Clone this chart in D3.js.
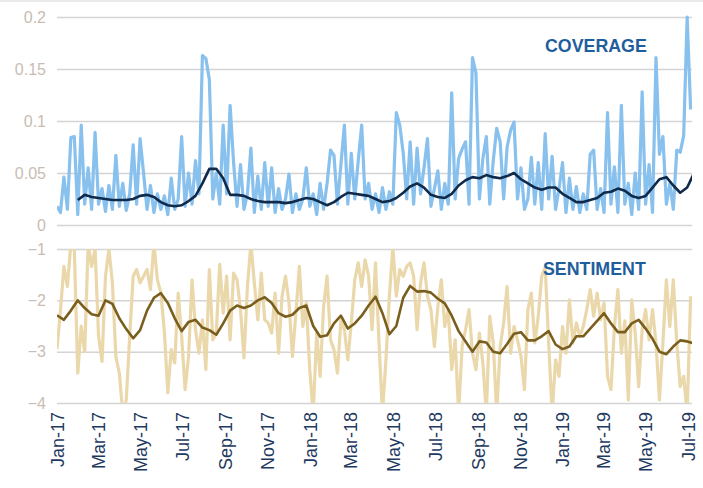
<!DOCTYPE html>
<html>
<head>
<meta charset="utf-8">
<script src="https://cdn.jsdelivr.net/npm/d3@7"></script>
<style>
  body { margin: 0; background: #fff; }
  svg { display: block; font-family: "Liberation Sans", Arial, sans-serif; }
</style>
</head>
<body>
<svg id="chart" width="703" height="488"></svg>
<script>
// daily series sampled every 5 days from 1 Jan 2017
const dailyStart = "2017-01-01";
const dailyStep = 5;
// moving averages sampled every 10 days
const coverageAvgStart = "2017-01-31";
const sentimentAvgStart = "2017-01-01";
const avgStep = 10;

const coverageDaily = [
  0.018,0.012,0.046,0.015,0.084,0.085,0.010,0.096,0.020,0.055,
  0.015,0.089,0.020,0.035,0.013,0.038,0.015,0.067,0.018,0.040,
  0.014,0.030,0.077,0.020,0.083,0.050,0.015,0.038,0.012,0.030,
  0.015,0.028,0.010,0.045,0.015,0.025,0.085,0.018,0.050,0.020,
  0.062,0.030,0.163,0.160,0.140,0.025,0.050,0.020,0.096,0.030,
  0.115,0.060,0.018,0.058,0.015,0.030,0.074,0.012,0.047,0.015,
  0.060,0.018,0.055,0.012,0.035,0.015,0.025,0.049,0.012,0.030,
  0.015,0.025,0.055,0.018,0.030,0.010,0.040,0.015,0.040,0.072,
  0.067,0.020,0.058,0.096,0.020,0.069,0.025,0.062,0.096,0.025,
  0.040,0.015,0.030,0.012,0.036,0.015,0.032,0.020,0.108,0.096,
  0.069,0.025,0.080,0.020,0.074,0.030,0.055,0.083,0.018,0.035,
  0.052,0.015,0.040,0.020,0.127,0.025,0.064,0.073,0.080,0.020,
  0.161,0.146,0.025,0.064,0.085,0.020,0.062,0.093,0.080,0.025,
  0.075,0.091,0.099,0.025,0.055,0.015,0.025,0.065,0.020,0.060,
  0.015,0.088,0.025,0.066,0.015,0.035,0.060,0.012,0.045,0.015,
  0.037,0.012,0.030,0.015,0.068,0.072,0.015,0.035,0.012,0.108,
  0.020,0.056,0.012,0.115,0.020,0.040,0.010,0.050,0.015,0.128,
  0.020,0.058,0.012,0.161,0.068,0.085,0.020,0.040,0.015,0.072,
  0.070,0.086,0.200,0.111
];

const coverageAvg = [
  0.024,0.029,0.027,0.026,0.025,0.024,0.024,0.024,0.025,0.028,
  0.029,0.027,0.022,0.019,0.018,0.019,0.023,0.028,0.040,0.054,
  0.054,0.045,0.029,0.029,0.028,0.025,0.023,0.022,0.022,0.022,
  0.021,0.022,0.024,0.026,0.025,0.022,0.019,0.022,0.027,0.031,
  0.030,0.029,0.028,0.025,0.022,0.023,0.026,0.031,0.037,0.040,
  0.036,0.029,0.027,0.026,0.030,0.038,0.043,0.046,0.045,0.048,
  0.046,0.045,0.047,0.050,0.044,0.040,0.036,0.034,0.036,0.036,
  0.030,0.026,0.022,0.022,0.024,0.026,0.031,0.032,0.035,0.033,
  0.028,0.026,0.028,0.036,0.044,0.046,0.038,0.031,0.036,0.050
];

const sentimentDaily = [
  -2.95,-2.20,-1.34,-1.73,-0.90,-1.00,-3.42,-2.50,-3.00,-0.90,
  -1.34,-1.00,-2.70,-3.19,-1.53,-1.00,-1.66,-3.09,-3.42,-4.20,
  -3.94,-2.70,-1.53,-1.40,-1.66,-1.53,-1.40,-1.79,-0.90,-1.60,
  -1.86,-2.60,-3.80,-2.96,-3.22,-1.86,-2.70,-3.74,-3.09,-1.60,
  -2.57,-3.03,-2.38,-3.35,-1.40,-2.77,-2.64,-1.30,-2.25,-1.53,
  -2.77,-1.47,-1.60,-2.18,-3.12,-1.73,-0.90,-1.66,-2.38,-1.47,
  -2.38,-2.44,-2.64,-1.86,-3.03,-1.92,-1.53,-2.05,-3.09,-2.25,
  -1.34,-2.51,-2.05,-3.35,-4.20,-2.64,-3.48,-2.12,-1.53,-2.77,
  -2.96,-3.42,-2.38,-2.57,-3.16,-2.44,-1.60,-1.27,-1.73,-1.21,
  -1.53,-2.57,-1.27,-2.83,-4.20,-3.16,-1.92,-0.95,-1.92,-1.40,
  -1.53,-1.34,-1.27,-1.53,-2.57,-1.66,-1.27,-1.92,-2.18,-2.90,
  -2.12,-1.60,-2.51,-2.18,-3.35,-2.77,-4.20,-2.90,-2.57,-2.18,
  -3.03,-3.35,-2.64,-3.22,-4.20,-2.31,-2.83,-4.20,-2.90,-2.44,
  -1.73,-3.03,-2.51,-2.77,-3.09,-3.74,-2.18,-1.86,-2.83,-2.31,
  -1.53,-1.35,-2.83,-4.20,-3.16,-3.48,-2.51,-3.03,-1.99,-2.83,
  -2.44,-2.70,-2.51,-2.18,-1.79,-2.31,-1.86,-2.38,-2.05,-3.48,
  -3.74,-2.51,-1.79,-3.03,-2.40,-3.94,-1.99,-2.64,-3.68,-2.57,
  -2.18,-2.77,-2.18,-2.83,-3.94,-2.83,-1.60,-2.51,-1.60,-2.83,
  -3.68,-3.48,-4.20,-1.92
];

const sentimentAvg = [
  -2.29,-2.38,-2.20,-2.00,-2.15,-2.27,-2.30,-2.00,-2.07,-2.35,
  -2.56,-2.74,-2.58,-2.20,-1.95,-1.86,-2.05,-2.35,-2.60,-2.42,
  -2.38,-2.53,-2.58,-2.67,-2.45,-2.20,-2.10,-2.15,-2.10,-2.00,
  -1.94,-2.05,-2.25,-2.32,-2.28,-2.15,-2.10,-2.50,-2.71,-2.68,
  -2.45,-2.30,-2.55,-2.45,-2.30,-2.10,-1.93,-2.25,-2.66,-2.50,
  -1.95,-1.72,-1.83,-1.82,-1.85,-1.97,-2.06,-2.30,-2.60,-2.80,
  -3.00,-2.80,-2.82,-3.00,-3.03,-2.85,-2.65,-2.62,-2.78,-2.78,
  -2.70,-2.60,-2.86,-2.95,-2.90,-2.70,-2.70,-2.55,-2.40,-2.25,
  -2.45,-2.62,-2.62,-2.45,-2.38,-2.55,-2.75,-3.00,-3.05,-2.90,
  -2.78,-2.80,-2.84
];

const coverageTicks = [0, 0.05, 0.1, 0.15, 0.2];
const sentimentTicks = [-4, -3, -2, -1];
const monthTicks = [
  "2017-01-01","2017-03-01","2017-05-01","2017-07-01","2017-09-01","2017-11-01",
  "2018-01-01","2018-03-01","2018-05-01","2018-07-01","2018-09-01","2018-11-01",
  "2019-01-01","2019-03-01","2019-05-01","2019-07-01"
];

const parse = d3.timeParse("%Y-%m-%d");
const svg = d3.select("#chart");

const left = 57, right = 692;
const x = d3.scaleTime()
  .domain([parse("2017-01-01"), parse("2019-07-07")])
  .range([left, right]);
const yCov = d3.scaleLinear().domain([0, 0.2]).range([225, 17]);
const ySen = d3.scaleLinear().domain([-4, -1]).range([403, 249]);

function toPoints(values, start, step) {
  const t0 = parse(start);
  return values.map((v, i) => ({ date: d3.timeDay.offset(t0, i * step), value: v }));
}

// faint remnant of title strip at very top
svg.append("line")
  .attr("x1", 0).attr("x2", 703).attr("y1", 1).attr("y2", 1)
  .attr("stroke", "#e3e3e3").attr("stroke-width", 1.5);

function gridAxis(y, ticks, fmt) {
  const g = svg.append("g")
    .attr("transform", `translate(${left},0)`)
    .call(d3.axisLeft(y).tickValues(ticks).tickFormat(fmt)
      .tickSize(-(right - left)).tickPadding(11));
  g.select(".domain").remove();
  g.selectAll(".tick line").attr("stroke", "#d4d4d4").attr("stroke-width", 1.5);
  g.selectAll(".tick text")
    .attr("fill", "#c9bdb3")
    .style("font-size", "16px");
}

gridAxis(yCov, coverageTicks, d => d3.format("~g")(d));
gridAxis(ySen, sentimentTicks, d => d3.format("d")(d));

const defs = svg.append("defs");
defs.append("clipPath").attr("id", "clipTop")
  .append("rect").attr("x", left).attr("y", 10).attr("width", right - left).attr("height", 216);
defs.append("clipPath").attr("id", "clipBot")
  .append("rect").attr("x", left).attr("y", 249).attr("width", right - left).attr("height", 154);

function drawLine(clip, y, data, color, width) {
  svg.append("path")
    .datum(data)
    .attr("clip-path", `url(#${clip})`)
    .attr("fill", "none")
    .attr("stroke", color)
    .attr("stroke-width", width)
    .attr("stroke-linejoin", "round")
    .attr("d", d3.line().x(d => x(d.date)).y(d => y(d.value)));
}

drawLine("clipTop", yCov, toPoints(coverageDaily, dailyStart, dailyStep), "#88c0ee", 3.2);
drawLine("clipTop", yCov, toPoints(coverageAvg, coverageAvgStart, avgStep), "#0f2a4a", 2.6);
drawLine("clipBot", ySen, toPoints(sentimentDaily, dailyStart, dailyStep), "#ead8ab", 3.2);
drawLine("clipBot", ySen, toPoints(sentimentAvg, sentimentAvgStart, avgStep), "#7a5e1e", 2.6);

svg.append("text")
  .attr("x", 545).attr("y", 52)
  .attr("fill", "#1f5e9c").attr("font-weight", "bold").style("font-size", "17.8px")
  .text("COVERAGE");
svg.append("text")
  .attr("x", 543).attr("y", 275)
  .attr("fill", "#1f5e9c").attr("font-weight", "bold").style("font-size", "17.8px")
  .text("SENTIMENT");

// date axis under the sentiment panel
const xAxis = svg.append("g")
  .attr("transform", "translate(0,403)")
  .call(d3.axisBottom(x).tickValues(monthTicks.map(parse))
    .tickFormat(d3.timeFormat("%b-%y")).tickSize(0));
xAxis.select(".domain").remove();
xAxis.selectAll(".tick text")
  .attr("transform", "rotate(-90)")
  .attr("text-anchor", "end")
  .attr("x", -9)
  .attr("y", 0)
  .attr("dy", "0.35em")
  .attr("fill", "#1f3a60")
  .style("font-size", "18px");
</script>
</body>
</html>
